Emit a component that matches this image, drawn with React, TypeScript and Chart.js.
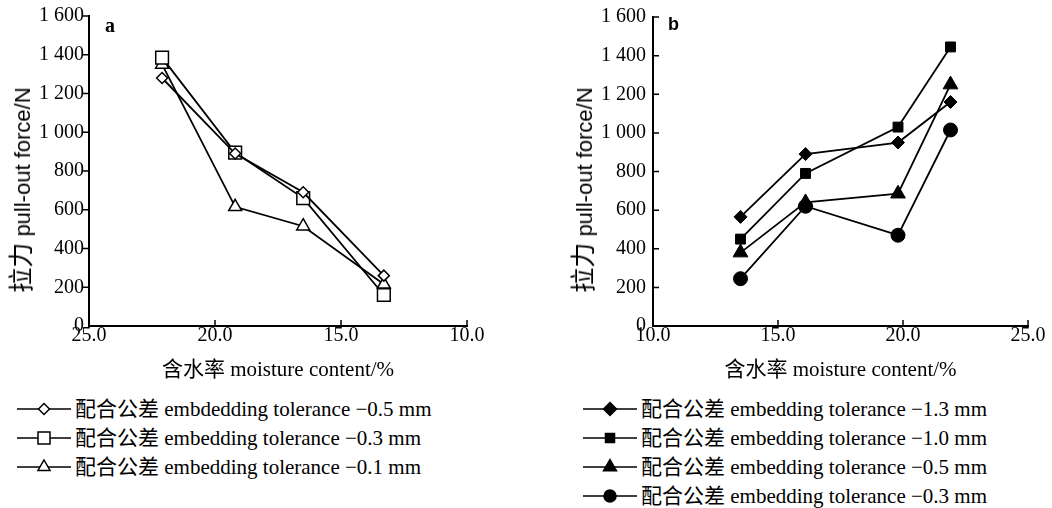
import React, { useEffect, useRef } from 'react';
import { Chart, registerables } from 'chart.js';

Chart.register(...registerables);

// ---- data ----
const moistureA = [22.1, 19.2, 16.5, 13.3];
const forceA_05 = [1280, 890, 690, 260];
const forceA_03 = [1385, 895, 660, 160];
const forceA_01 = [1350, 615, 515, 215];

const moistureB = [13.5, 16.1, 19.8, 21.9];
const forceB_13 = [565, 890, 950, 1160];
const forceB_10 = [450, 790, 1030, 1445];
const forceB_05 = [380, 640, 685, 1250];
const forceB_03 = [245, 620, 470, 1015];

const yTickValues = [0, 200, 400, 600, 800, 1000, 1200, 1400, 1600];
const yTickLabels = ['0', '200', '400', '600', '800', '1 000', '1 200', '1 400', '1 600'];
const xTickValues = [10, 15, 20, 25];
const xTickLabels = ['10.0', '15.0', '20.0', '25.0'];

const yTitleZh = '拉力';
const yTitleEn = 'pull-out force/N';
const xTitle = '含水率 moisture content/%';

const legendA = [
  '配合公差 embdedding tolerance −0.5 mm',
  '配合公差 embedding tolerance −0.3 mm',
  '配合公差 embedding tolerance −0.1 mm',
];
const legendB = [
  '配合公差 embedding tolerance −1.3 mm',
  '配合公差 embedding tolerance −1.0 mm',
  '配合公差 embedding tolerance −0.5 mm',
  '配合公差 embedding tolerance −0.3 mm',
];

const SERIF = "'Liberation Serif', 'Noto Sans CJK SC', serif";
const SANS = "'Liberation Sans', 'Noto Sans CJK SC', sans-serif";

const tickPlugin = {
  id: 'tickMarks',
  afterDraw(chart: any, _args: any, opts: any) {
    const { ctx } = chart;
    const x = chart.scales.x;
    const y = chart.scales.y;
    ctx.save();
    ctx.strokeStyle = '#000';
    ctx.lineWidth = 1.5;
    ctx.beginPath();
    x.ticks.forEach((t: any) => {
      const px = x.getPixelForValue(t.value);
      ctx.moveTo(px, x.top);
      ctx.lineTo(px, x.top - 6);
    });
    y.ticks.forEach((t: any) => {
      const py = y.getPixelForValue(t.value);
      if (t.value === 0) return;
      ctx.moveTo(y.right, py);
      ctx.lineTo(y.right + opts.yDir * 6, py);
    });
    ctx.stroke();
    ctx.restore();
  },
};

function toPoints(xs: number[], ys: number[]) {
  return xs.map((x, i) => ({ x, y: ys[i] }));
}

function makeConfig(panel: 'a' | 'b'): any {
  const isA = panel === 'a';
  const datasets = isA
    ? [
        { label: legendA[0], data: toPoints(moistureA, forceA_05), pointStyle: 'rectRot', pointRadius: 5.5 },
        { label: legendA[1], data: toPoints(moistureA, forceA_03), pointStyle: 'rect', pointRadius: 9 },
        { label: legendA[2], data: toPoints(moistureA, forceA_01), pointStyle: 'triangle', pointRadius: 7.5 },
      ].map((d) => ({
        ...d,
        borderColor: '#000',
        backgroundColor: '#fff',
        pointBackgroundColor: '#fff',
        pointBorderColor: '#000',
        pointBorderWidth: 1.5,
        borderWidth: 1.8,
        tension: 0,
      }))
    : [
        { label: legendB[0], data: toPoints(moistureB, forceB_13), pointStyle: 'rectRot', pointRadius: 6.5 },
        { label: legendB[1], data: toPoints(moistureB, forceB_10), pointStyle: 'rect', pointRadius: 7 },
        { label: legendB[2], data: toPoints(moistureB, forceB_05), pointStyle: 'triangle', pointRadius: 8.5 },
        { label: legendB[3], data: toPoints(moistureB, forceB_03), pointStyle: 'circle', pointRadius: 7 },
      ].map((d) => ({
        ...d,
        borderColor: '#000',
        backgroundColor: '#000',
        pointBackgroundColor: '#000',
        pointBorderColor: '#000',
        pointBorderWidth: 1,
        borderWidth: 1.8,
        tension: 0,
      }));

  return {
    type: 'line',
    data: { datasets },
    plugins: [tickPlugin],
    options: {
      responsive: false,
      animation: false,
      layout: {
        padding: isA ? { left: 9, top: 16, right: 53, bottom: 0 } : { left: 41, top: 16, right: 24, bottom: 0 },
      },
      plugins: {
        legend: { display: false },
        tooltip: { enabled: false },
        tickMarks: { yDir: isA ? -1 : 1 },
      },
      scales: {
        x: {
          type: 'linear',
          reverse: isA,
          min: 10,
          max: 25,
          afterBuildTicks: (scale: any) => {
            scale.ticks = xTickValues.map((v) => ({ value: v }));
          },
          afterFit: (scale: any) => {
            scale.height = 64;
          },
          ticks: {
            color: '#000',
            padding: 0,
            maxRotation: 0,
            font: { family: SERIF, size: 20, lineHeight: 1.0 },
            callback: (v: number) => xTickLabels[xTickValues.indexOf(v)],
          },
          grid: { display: false, drawTicks: false },
          border: { display: true, color: '#000', width: 2 },
          title: {
            display: true,
            text: xTitle,
            color: '#000',
            font: { family: SERIF, size: 21, lineHeight: 1.2 },
            padding: { top: 0, bottom: 7 },
          },
        },
        y: {
          type: 'linear',
          min: 0,
          max: 1600,
          afterBuildTicks: (scale: any) => {
            scale.ticks = yTickValues.map((v) => ({ value: v }));
          },
          afterFit: (scale: any) => {
            scale.width = isA ? 80 : 82;
          },
          ticks: {
            color: '#000',
            padding: isA ? 5 : 7,
            font: { family: SERIF, size: 20, lineHeight: 1.0 },
            callback: (v: number) => yTickLabels[yTickValues.indexOf(v)],
          },
          grid: { display: false, drawTicks: false },
          border: { display: true, color: '#000', width: 2 },
          title: { display: false },
        },
      },
    },
  };
}

function Panel({ panel, left, width }: { panel: 'a' | 'b'; left: number; width: number }) {
  const ref = useRef<HTMLCanvasElement>(null);
  useEffect(() => {
    if (!ref.current) return;
    const chart = new Chart(ref.current, makeConfig(panel));
    return () => chart.destroy();
  }, [panel]);
  return (
    <canvas
      ref={ref}
      width={width}
      height={390}
      style={{ position: 'absolute', left, top: 0, width, height: 390 }}
    />
  );
}

function YTitle({ cx, cy }: { cx: number; cy: number }) {
  return (
    <div
      style={{
        position: 'absolute',
        left: cx,
        top: cy,
        transform: 'translate(-50%, -50%) rotate(-90deg)',
        whiteSpace: 'nowrap',
        color: '#000',
        lineHeight: '24px',
      }}
    >
      <span style={{ fontFamily: "'Noto Sans CJK SC', sans-serif", fontSize: 25 }}>{yTitleZh}</span>
      <span style={{ fontFamily: SANS, fontSize: 22 }}>{' ' + yTitleEn}</span>
    </div>
  );
}

function Marker({ kind, filled }: { kind: string; filled: boolean }) {
  const fill = filled ? '#000' : '#fff';
  const cx = 27;
  const cy = 10;
  let shape: any = null;
  if (kind === 'diamond') {
    const r = filled ? 6.5 : 5.5;
    shape = <polygon points={`${cx - r},${cy} ${cx},${cy - r} ${cx + r},${cy} ${cx},${cy + r}`} fill={fill} stroke="#000" strokeWidth={1.5} />;
  } else if (kind === 'square') {
    const s = filled ? 4.5 : 6;
    shape = <rect x={cx - s} y={cy - s} width={2 * s} height={2 * s} fill={fill} stroke="#000" strokeWidth={1.5} />;
  } else if (kind === 'triangle') {
    const r = filled ? 7.5 : 7;
    const h = r * 0.866;
    shape = <polygon points={`${cx},${cy - r} ${cx + h},${cy + r / 2} ${cx - h},${cy + r / 2}`} fill={fill} stroke="#000" strokeWidth={1.5} />;
  } else {
    shape = <circle cx={cx} cy={cy} r={6} fill={fill} stroke="#000" strokeWidth={1.5} />;
  }
  return (
    <svg width={56} height={20} style={{ display: 'block' }}>
      <line x1={0} y1={cy} x2={54} y2={cy} stroke="#000" strokeWidth={1.6} />
      {shape}
    </svg>
  );
}

function Legend({ items, kinds, filled, left, top }: { items: string[]; kinds: string[]; filled: boolean; left: number; top: number }) {
  return (
    <div style={{ position: 'absolute', left, top }}>
      {items.map((t, i) => (
        <div
          key={i}
          style={{ position: 'absolute', left: 0, top: i * 29 - 10, height: 20, display: 'flex', alignItems: 'center', whiteSpace: 'nowrap' }}
        >
          <Marker kind={kinds[i]} filled={filled} />
          <span style={{ fontFamily: SERIF, fontSize: 21, lineHeight: '20px', marginLeft: 2, color: '#000' }}>{t}</span>
        </div>
      ))}
    </div>
  );
}

export default function App() {
  return (
    <div style={{ position: 'absolute', left: 0, top: 0, width: 1052, height: 508, background: '#fff', overflow: 'hidden' }}>
      <Panel panel="a" left={0} width={520} />
      <Panel panel="b" left={530} width={522} />
      <YTitle cx={22} cy={190} />
      <YTitle cx={584} cy={190} />
      <span style={{ position: 'absolute', left: 105, top: 14, fontFamily: SERIF, fontWeight: 'bold', fontSize: 20 }}>a</span>
      <span style={{ position: 'absolute', left: 668, top: 14, fontFamily: SANS, fontWeight: 'bold', fontSize: 18 }}>b</span>
      <Legend items={legendA} kinds={['diamond', 'square', 'triangle']} filled={false} left={17} top={409} />
      <Legend items={legendB} kinds={['diamond', 'square', 'triangle', 'circle']} filled={true} left={583} top={409} />
    </div>
  );
}
